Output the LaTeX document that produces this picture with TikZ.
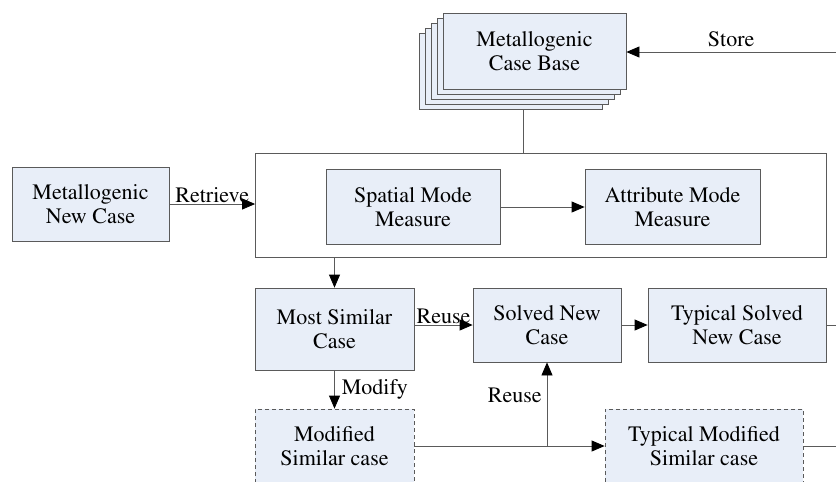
\documentclass[tikz,border=0pt]{standalone}
\usepackage[T1]{fontenc}
\usepackage{mathptmx}
\usetikzlibrary{positioning,arrows.meta,calc}
\definecolor{casefill}{HTML}{E8EEF8}
\definecolor{caseline}{HTML}{5A5A5A}
\tikzset{
    every node/.style={font=\fontsize{22}{24}\selectfont},
    casebox/.style={rectangle,draw=caseline,fill=casefill,line width=0.8pt,align=center,inner sep=2pt},
    modbox/.style={casebox,dash pattern=on 4pt off 3pt},
    bigbox/.style={rectangle,draw=caseline,fill=white,line width=0.8pt},
    flow/.style={draw=caseline,line width=0.8pt,-{Triangle[length=13pt,width=11pt,black]}},
    plain/.style={draw=caseline,line width=0.8pt},
    lbl/.style={inner sep=1pt}
}

\begin{document}
\begin{tikzpicture}[x=1pt,y=-1pt]
\clip (0,0) rectangle (836,482);

% case base stack
\foreach \k in {4,3,2,1}
    \node[casebox,minimum width=183pt,minimum height=76pt] (base\k) at (534.5-6*\k,51+5*\k) {};
\node[casebox,minimum width=183pt,minimum height=76pt] (base) at (534.5,51) {Metallogenic\\Case Base};

% retrieval
\node[casebox,minimum width=157pt,minimum height=74pt] (newcase) at (90.5,204) {Metallogenic\\New Case};
\node[bigbox,minimum width=571pt,minimum height=104pt] (measure) at (541,205) {};
\node[casebox,minimum width=174pt,minimum height=75pt] (spatial) at (413,207) {Spatial Mode\\Measure};
\node[casebox,minimum width=175pt,minimum height=75pt] (attribute) at (672.5,207) {Attribute Mode\\Measure};

% reuse and revise
\node[casebox,minimum width=159pt,minimum height=82pt] (similar) at (334.5,329) {Most Similar\\Case};
\node[casebox,minimum width=148pt,minimum height=74pt] (solved) at (547,325) {Solved New\\Case};
\node[casebox,minimum width=178pt,minimum height=74pt] (tsolved) at (737,325) {Typical Solved\\New Case};
\node[modbox,minimum width=159pt,minimum height=74pt] (modified) at (334.5,446) {Modified\\Similar case};
\node[modbox,minimum width=198pt,minimum height=74pt] (tmodified) at (704,446) {Typical Modified\\Similar case};

\coordinate (storein) at (836,52);
\coordinate (solvedout) at (836,325);
\coordinate (modout) at (836,446);

\draw[flow] (storein) -- (storein -| base.east) node[lbl,midway,above=4pt] (lblstore) {Store};
\draw[plain] (base4.south) ++(12.5,0) coordinate (stem) -- (stem |- measure.north);
\draw[flow] (newcase.east) -- (newcase.east -| measure.west) node[lbl,midway,above] (lblretrieve) {Retrieve};
\draw[flow] (spatial) -- (attribute);
\draw[flow] (measure.south -| similar) -- (similar.north);
\draw[flow] (solved.west -| similar.east) -- (solved.west) node[lbl,midway,above] (lblreuse) {Reuse};
\draw[flow] (solved) -- (tsolved);
\draw[plain] (tsolved.east) -- (solvedout);
\draw[flow] (similar.south) -- (modified.north) node[lbl,midway,right=6pt] (lblmodify) {Modify};
\draw[flow] (modified) -- (tmodified);
\coordinate (split) at (solved.south |- modified.east);
\draw[flow] (split) -- (solved.south) node[lbl,pos=0.6,left=4pt] (lblreuseup) {Reuse};
\draw[plain] (tmodified.east) -- (modout);
\end{tikzpicture}
\end{document}
